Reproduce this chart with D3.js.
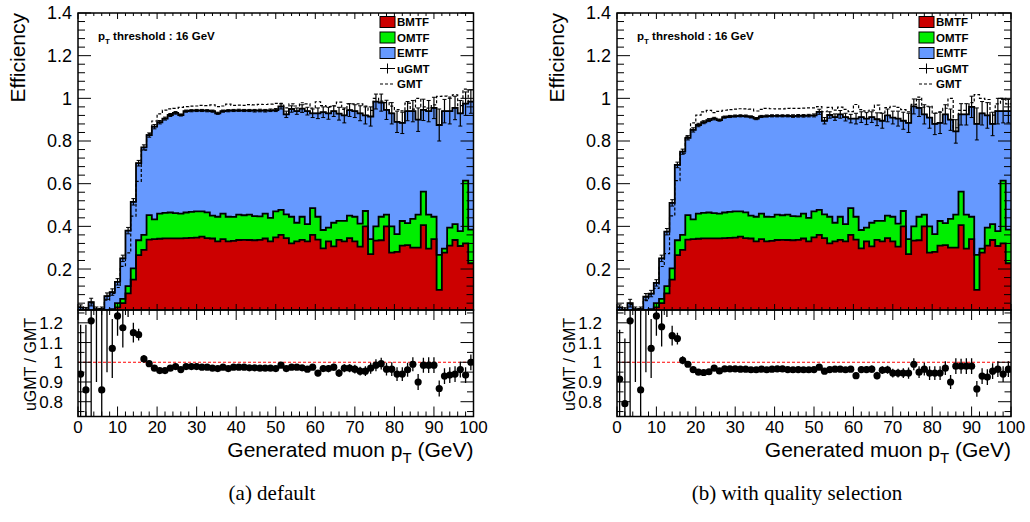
<!DOCTYPE html>
<html>
<head>
<meta charset="utf-8">
<script src="https://cdn.jsdelivr.net/npm/d3@7"></script>
<style>
  body { margin: 0; background: #fff; }
  svg { display: block; }
  text { font-family: "Liberation Sans", Arial, Helvetica, sans-serif; }
</style>
</head>
<body>
<div id="chart"></div>
<script>
// 75 bins of generated muon pT, 0 - 100 GeV
const nBins = 75, ptMax = 100;

// BMTF efficiency (bottom of the stack)
const bmtf = [0, 0, 0, 0, 0, 0.003, 0.008, 0.02, 0.04, 0.086,
  0.15, 0.265, 0.29, 0.338, 0.34, 0.342, 0.344, 0.344, 0.344, 0.344,
  0.345, 0.346, 0.347, 0.352, 0.345, 0.343, 0.33, 0.34, 0.33, 0.332,
  0.336, 0.337, 0.336, 0.335, 0.337, 0.343, 0.33, 0.348, 0.36, 0.345,
  0.32, 0.33, 0.337, 0.33, 0.36, 0.338, 0.297, 0.33, 0.306, 0.337,
  0.33, 0.345, 0.33, 0.305, 0.4, 0.27, 0.333, 0.335, 0.4, 0.277,
  0.28, 0.31, 0.312, 0.3, 0.3, 0.406, 0.296, 0.34, 0.102, 0.277,
  0.31, 0.336, 0.308, 0.32, 0.227];

// BMTF + OMTF (top of the green layer)
const bmtfOmtf = [0, 0, 0, 0, 0, 0.006, 0.012, 0.04, 0.06, 0.12,
  0.203, 0.335, 0.36, 0.453, 0.433, 0.46, 0.463, 0.465, 0.462, 0.46,
  0.465, 0.468, 0.47, 0.47, 0.466, 0.45, 0.445, 0.46, 0.445, 0.444,
  0.455, 0.452, 0.455, 0.448, 0.447, 0.46, 0.44, 0.47, 0.477, 0.456,
  0.445, 0.417, 0.445, 0.41, 0.485, 0.445, 0.383, 0.394, 0.417, 0.426,
  0.426, 0.45, 0.445, 0.413, 0.472, 0.34, 0.4, 0.445, 0.455, 0.4,
  0.364, 0.425, 0.415, 0.435, 0.455, 0.563, 0.455, 0.445, 0.266, 0.296,
  0.394, 0.41, 0.378, 0.614, 0.385];

// uGMT efficiency = BMTF + OMTF + EMTF, (a) default
const ugmtA = [0.02, 0.01, 0.045, 0.012, 0.012, 0.073, 0.092, 0.14, 0.25, 0.38,
  0.515, 0.696, 0.77, 0.828, 0.867, 0.888, 0.905, 0.922, 0.932, 0.922,
  0.94, 0.942, 0.943, 0.943, 0.942, 0.94, 0.93, 0.94, 0.942, 0.943,
  0.944, 0.943, 0.943, 0.942, 0.943, 0.942, 0.944, 0.945, 0.962, 0.925,
  0.95, 0.94, 0.952, 0.94, 0.93, 0.93, 0.935, 0.93, 0.94, 0.928,
  0.92, 0.945, 0.94, 0.93, 0.92, 0.915, 0.985, 0.98, 0.946, 0.93,
  0.89, 0.885, 0.94, 0.94, 0.9, 0.946, 0.94, 0.955, 0.875, 0.94,
  0.94, 0.955, 0.93, 0.975, 0.985];

// uGMT efficiency, (b) with quality selection
const ugmtB = [0.02, 0.008, 0.04, 0.012, 0.012, 0.07, 0.085, 0.135, 0.25, 0.375,
  0.51, 0.688, 0.75, 0.815, 0.852, 0.875, 0.888, 0.898, 0.905, 0.898,
  0.912, 0.915, 0.917, 0.918, 0.917, 0.913, 0.905, 0.915, 0.917, 0.918,
  0.918, 0.918, 0.918, 0.917, 0.918, 0.918, 0.919, 0.92, 0.937, 0.895,
  0.922, 0.912, 0.925, 0.912, 0.905, 0.905, 0.912, 0.905, 0.912, 0.902,
  0.895, 0.92, 0.91, 0.905, 0.895, 0.885, 0.962, 0.955, 0.925, 0.91,
  0.88, 0.885, 0.925, 0.9, 0.845, 0.925, 0.925, 0.96, 0.88, 0.93,
  0.92, 0.88, 0.94, 0.94, 0.94];

const ugmtErr = [0.012, 0.01, 0.018, 0.01, 0.01, 0.015, 0.015, 0.015, 0.015, 0.015,
  0.015, 0.013, 0.012, 0.01, 0.01, 0.008, 0.007, 0.007, 0.006, 0.005,
  0.005, 0.005, 0.005, 0.005, 0.005, 0.005, 0.005, 0.005, 0.005, 0.005,
  0.005, 0.005, 0.005, 0.006, 0.006, 0.006, 0.006, 0.007, 0.012, 0.015,
  0.015, 0.015, 0.018, 0.018, 0.02, 0.025, 0.025, 0.028, 0.025, 0.03,
  0.035, 0.03, 0.03, 0.035, 0.04, 0.045, 0.035, 0.04, 0.045, 0.05,
  0.05, 0.05, 0.045, 0.05, 0.055, 0.05, 0.05, 0.05, 0.075, 0.055,
  0.06, 0.055, 0.06, 0.055, 0.055];

// uGMT / GMT
const ratioA = [0.94, 0.86, 1.21, 1.5, 0.86, 1.35, 1.07, 1.235, 1.175, 1.38,
  1.15, 1.14, 1.017, 0.993, 0.97, 0.958, 0.958, 0.97, 0.978, 0.963,
  0.978, 0.978, 0.978, 0.975, 0.975, 0.97, 0.968, 0.975, 0.968, 0.975,
  0.975, 0.975, 0.972, 0.972, 0.97, 0.97, 0.97, 0.968, 0.985, 0.968,
  0.975, 0.975, 0.972, 0.965, 0.975, 0.945, 0.968, 0.968, 0.975, 0.945,
  0.97, 0.97, 0.965, 0.955, 0.955, 0.97, 0.985, 0.993, 0.965, 0.965,
  0.94, 0.94, 0.962, 0.99, 0.9, 0.985, 0.985, 0.985, 0.867, 0.93,
  0.935, 0.94, 0.963, 0.935, 1.0];

const ratioB = [0.915, 0.79, 1.21, 1.5, 0.86, 1.35, 1.07, 1.235, 1.18, 1.38,
  1.135, 1.12, 1.01, 0.99, 0.963, 0.95, 0.948, 0.952, 0.97, 0.956,
  0.966, 0.966, 0.966, 0.965, 0.965, 0.962, 0.962, 0.965, 0.962, 0.965,
  0.966, 0.966, 0.963, 0.962, 0.963, 0.962, 0.962, 0.963, 0.975, 0.955,
  0.963, 0.965, 0.965, 0.962, 0.965, 0.932, 0.963, 0.963, 0.965, 0.932,
  0.96, 0.962, 0.945, 0.945, 0.945, 0.945, 0.99, 0.95, 0.965, 0.945,
  0.945, 0.945, 0.97, 0.9, 0.98, 0.98, 0.98, 0.98, 0.865, 0.93,
  0.925, 0.955, 0.965, 0.94, 0.965];

const ratioErr = [0.25, 0.33, 0.5, 0.6, 0.45, 0.4, 0.15, 0.1, 0.1, 0.15,
  0.05, 0.03, 0.02, 0.012, 0.008, 0.008, 0.008, 0.008, 0.008, 0.008,
  0.008, 0.008, 0.008, 0.008, 0.008, 0.008, 0.008, 0.008, 0.008, 0.008,
  0.008, 0.008, 0.008, 0.008, 0.008, 0.008, 0.008, 0.008, 0.012, 0.012,
  0.012, 0.012, 0.012, 0.014, 0.014, 0.016, 0.016, 0.018, 0.018, 0.02,
  0.02, 0.02, 0.022, 0.022, 0.025, 0.028, 0.03, 0.03, 0.032, 0.035,
  0.035, 0.035, 0.035, 0.035, 0.04, 0.038, 0.04, 0.04, 0.04, 0.04,
  0.04, 0.04, 0.04, 0.04, 0.04];

const legendItems = ["BMTF", "OMTF", "EMTF", "uGMT", "GMT"];
const captions = ["(a) default", "(b) with quality selection"];

const colors = { bmtf: "#cc0000", omtf: "#00ee00", emtf: "#6699ff" };
const bw = ptMax / nBins;

const svg = d3.select("#chart").append("svg")
  .attr("width", 1030).attr("height", 522);

function drawPanel(x0, x1, ugmt, ratio, caption, capX, idx) {
  const top = 13, mid = 310, bottom = 416.5;
  const x = d3.scaleLinear().domain([0, ptMax]).range([x0, x1]);
  const y = d3.scaleLinear().domain([0, 1.4]).range([311.7, top]);
  const yr = d3.scaleLinear().domain([0.725, 1.265]).range([bottom, mid]);

  const g = svg.append("g");
  const clipTop = "clipTop" + idx, clipBot = "clipBot" + idx;
  svg.append("clipPath").attr("id", clipTop).append("rect")
    .attr("x", x0).attr("y", top).attr("width", x1 - x0).attr("height", mid - top);
  svg.append("clipPath").attr("id", clipBot).append("rect")
    .attr("x", x0).attr("y", mid).attr("width", x1 - x0).attr("height", bottom - mid);

  const stepData = vals => vals.map((v, i) => ({ x: i * bw, v }))
    .concat([{ x: ptMax, v: vals[nBins - 1] }]);
  const area = d3.area().curve(d3.curveStepAfter)
    .x(d => x(d.x)).y0(y(0)).y1(d => y(d.v));
  const line = d3.line().curve(d3.curveStepAfter)
    .x(d => x(d.x)).y(d => y(d.v));

  const up = g.append("g").attr("clip-path", `url(#${clipTop})`);
  const layers = [[ugmt, colors.emtf], [bmtfOmtf, colors.omtf], [bmtf, colors.bmtf]];
  layers.forEach(([vals, c]) => {
    up.append("path").attr("d", area(stepData(vals))).attr("fill", c);
  });
  layers.forEach(([vals]) => {
    up.append("path").attr("d", line(stepData(vals)))
      .attr("fill", "none").attr("stroke", "#000").attr("stroke-width", 1.8);
  });

  // GMT, dashed
  const gmt = ugmt.map((v, i) => v / ratio[i]);
  up.append("path").attr("d", line(stepData(gmt)))
    .attr("fill", "none").attr("stroke", "#000").attr("stroke-width", 1.2)
    .attr("stroke-dasharray", "3,2");

  // uGMT error bars
  ugmt.forEach((v, i) => {
    const cx = x((i + 0.5) * bw);
    const e = ugmtErr[i];
    up.append("line").attr("x1", x(i * bw)).attr("x2", x((i + 1) * bw))
      .attr("y1", y(v)).attr("y2", y(v)).attr("stroke", "#000").attr("stroke-width", 1);
    up.append("line").attr("x1", cx).attr("x2", cx)
      .attr("y1", y(v - e)).attr("y2", y(v + e)).attr("stroke", "#000").attr("stroke-width", 1.2);
    [v - e, v + e].forEach(t => {
      up.append("line").attr("x1", cx - 2).attr("x2", cx + 2)
        .attr("y1", y(t)).attr("y2", y(t)).attr("stroke", "#000").attr("stroke-width", 1);
    });
  });

  // ratio panel
  const lo = g.append("g").attr("clip-path", `url(#${clipBot})`);
  lo.append("line").attr("x1", x0).attr("x2", x1).attr("y1", yr(1)).attr("y2", yr(1))
    .attr("stroke", "#ff0000").attr("stroke-width", 1).attr("stroke-dasharray", "3,2");
  ratio.forEach((r, i) => {
    const cx = x((i + 0.5) * bw), e = ratioErr[i];
    lo.append("line").attr("x1", cx).attr("x2", cx)
      .attr("y1", yr(r - e)).attr("y2", yr(r + e)).attr("stroke", "#000").attr("stroke-width", 1.3);
    if (r > 0.725 && r < 1.265) {
      lo.append("circle").attr("cx", cx).attr("cy", yr(r)).attr("r", 3.6).attr("fill", "#000");
    }
  });

  // frames
  g.append("rect").attr("x", x0).attr("y", top).attr("width", x1 - x0).attr("height", mid - top)
    .attr("fill", "none").attr("stroke", "#000").attr("stroke-width", 1.5);
  g.append("rect").attr("x", x0).attr("y", mid).attr("width", x1 - x0).attr("height", bottom - mid)
    .attr("fill", "none").attr("stroke", "#000").attr("stroke-width", 1.5);

  const tick = (x1_, y1_, x2_, y2_) => g.append("line")
    .attr("x1", x1_).attr("y1", y1_).attr("x2", x2_).attr("y2", y2_)
    .attr("stroke", "#000").attr("stroke-width", 1);

  // x ticks
  d3.range(0, ptMax + 0.01, 2).forEach(v => {
    const major = v % 10 === 0, px = x(v);
    const lt = major ? 6 : 3, lb = major ? 10 : 5;
    tick(px, top, px, top + lt);
    tick(px, mid, px, mid - lt);
    tick(px, mid, px, mid + lb);
    tick(px, bottom, px, bottom - lb);
  });
  // upper y ticks
  d3.range(0.04, 1.401, 0.04).forEach(v => {
    const major = Math.abs(v / 0.2 - Math.round(v / 0.2)) < 1e-6;
    const l = major ? 13 : 7, py = y(v);
    tick(x0, py, x0 + l, py);
    tick(x1, py, x1 - l, py);
  });
  // ratio y ticks
  d3.range(0.75, 1.26, 0.05).forEach(v => {
    const major = Math.abs(v * 10 - Math.round(v * 10)) < 1e-6;
    const l = major ? 13 : 6.5, py = yr(v);
    tick(x0, py, x0 + l, py);
    tick(x1, py, x1 - l, py);
  });

  // tick labels
  d3.range(0.2, 1.401, 0.2).forEach(v => {
    g.append("text").attr("x", x0 - 6).attr("y", y(v)).attr("dy", "0.36em")
      .attr("text-anchor", "end").attr("font-size", 18).text(String(+v.toFixed(1)));
  });
  [0.8, 0.9, 1.0, 1.1, 1.2].forEach(v => {
    g.append("text").attr("x", x0 - 15).attr("y", yr(v)).attr("dy", "0.36em")
      .attr("text-anchor", "end").attr("font-size", 17).text(String(v));
  });
  d3.range(0, ptMax + 1, 10).forEach(v => {
    g.append("text").attr("x", x(v)).attr("y", 433)
      .attr("text-anchor", "middle").attr("font-size", 17).text(String(v));
  });

  // axis titles
  const xt = g.append("text").attr("x", x1).attr("y", 457)
    .attr("text-anchor", "end").attr("font-size", 21);
  xt.append("tspan").text("Generated muon p");
  xt.append("tspan").attr("font-size", 15).attr("dy", 6).text("T");
  xt.append("tspan").attr("dy", -6).text(" (GeV)");

  g.append("text").attr("transform", `translate(${x0 - 53},${top}) rotate(-90)`)
    .attr("text-anchor", "end").attr("font-size", 21).text("Efficiency");
  g.append("text").attr("transform", `translate(${x0 - 42},${mid + 8}) rotate(-90)`)
    .attr("text-anchor", "end").attr("font-size", 16).text("uGMT / GMT");

  // threshold label
  const th = g.append("text").attr("x", x0 + 20).attr("y", 40)
    .attr("font-size", 11.5).attr("font-weight", "bold");
  th.append("tspan").text("p");
  th.append("tspan").attr("font-size", 8).attr("dy", 4).text("T");
  th.append("tspan").attr("dy", -4).text(" threshold : 16 GeV");

  // legend
  const lx = x0 + 302;
  const ly = [22, 37.5, 53, 68.5, 84];
  const boxCol = [colors.bmtf, colors.omtf, colors.emtf];
  legendItems.forEach((name, k) => {
    if (k < 3) {
      g.append("rect").attr("x", lx).attr("y", ly[k] - 5.5).attr("width", 15).attr("height", 11)
        .attr("fill", boxCol[k]).attr("stroke", "#000").attr("stroke-width", 1);
    } else if (k === 3) {
      tick(lx, ly[k], lx + 15, ly[k]);
      tick(lx + 7.5, ly[k] - 5, lx + 7.5, ly[k] + 5);
    } else {
      g.append("line").attr("x1", lx).attr("x2", lx + 15).attr("y1", ly[k]).attr("y2", ly[k])
        .attr("stroke", "#000").attr("stroke-width", 1.2).attr("stroke-dasharray", "3,2");
    }
    g.append("text").attr("x", lx + 17).attr("y", ly[k]).attr("dy", "0.36em")
      .attr("font-size", 11.5).attr("font-weight", "bold").text(name);
  });

  // caption
  svg.append("text").attr("x", capX).attr("y", 500).attr("text-anchor", "middle")
    .attr("font-size", 21).style("font-family", '"Liberation Serif", "DejaVu Serif", serif')
    .text(caption);
}

drawPanel(78, 473.5, ugmtA, ratioA, captions[0], 272, 0);
drawPanel(617, 1011, ugmtB, ratioB, captions[1], 797, 1);
</script>
</body>
</html>
